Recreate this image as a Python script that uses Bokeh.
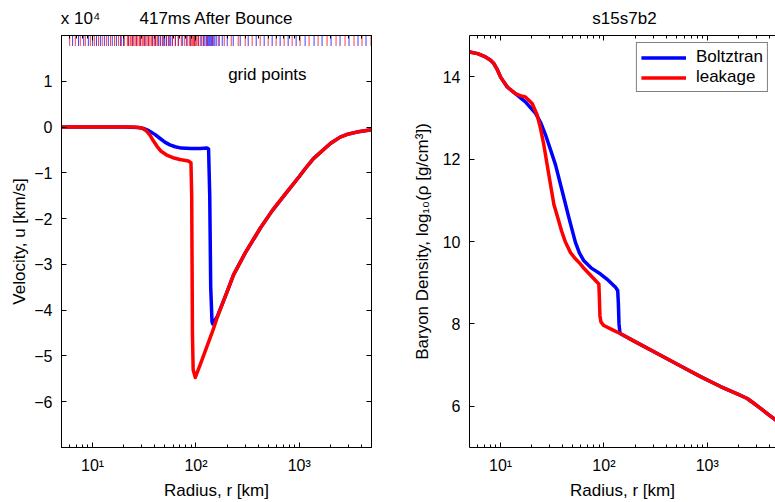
from bokeh.plotting import figure
from bokeh.models import (Range1d, FixedTicker, LinearAxis, Label, Legend, LegendItem)
from bokeh.layouts import row
from bokeh.embed import file_html
from bokeh.resources import INLINE

FONT = "Liberation Sans"

# ---------------- Left panel: velocity (units of 1e4 km/s) ----------------
vel_r_boltz = [5, 20, 28, 31, 35, 40, 45, 50, 56, 63, 72, 90, 110, 128, 132.5, 136, 139, 143, 145,
               160, 200, 231, 300, 419, 550, 758, 1000, 1150, 1371, 2000, 2483, 3000, 3597, 5000]
vel_u_boltz = [0, 0, -0.01, -0.03, -0.08, -0.16, -0.25, -0.33, -0.39, -0.43, -0.46, -0.47, -0.47, -0.46,
               -0.48, -1.5, -3.5, -4.25, -4.30,
               -4.15, -3.60, -3.23, -2.75, -2.21, -1.82, -1.42, -1.08, -0.90, -0.69, -0.36, -0.22,
               -0.15, -0.11, -0.06]

vel_r_leak = [5, 25, 30, 33, 36, 38.7, 42, 46, 52.9, 60, 70, 84.3, 89.5, 91, 92.5, 94, 98.6, 110, 125, 145,
              160, 200, 231, 300, 419, 550, 758, 1000, 1150, 1371, 2000, 2483, 3000, 3597, 5000]
vel_u_leak = [0, 0, -0.02, -0.08, -0.18, -0.30, -0.42, -0.53, -0.62, -0.67, -0.71, -0.74, -0.78, -1.5, -4.5,
              -5.3, -5.47, -5.19, -4.85, -4.46,
              -4.17, -3.60, -3.23, -2.75, -2.21, -1.82, -1.42, -1.08, -0.90, -0.69, -0.36, -0.22,
              -0.15, -0.11, -0.06]

# grid point radii [km]
grid_r_leak = [6.0, 6.8, 7.6, 8.5, 9.5, 10.4, 11.4, 12.4, 13.6, 14.9, 16.3, 17.8, 19.0, 20.3,
               21.7, 22.4, 23.2, 24.0, 24.8, 25.7, 26.5, 27.4, 28.4, 29.3, 30.3, 31.3, 32.4, 33.5,
               34.6, 35.8, 37.0, 38.3, 39.6, 40.9, 42.3, 45.2, 48.4, 51.7, 55.3, 59.1, 63.2, 67.5,
               72.2, 77.2, 82.5, 86.2, 89.2, 91.2, 93.2, 95.3, 97.5, 99.6, 101.9, 105.4, 110.1,
               117.8, 128.7, 143.8, 164.4, 187.9, 219.6, 256.5, 299.7, 350.2, 418.5, 500, 597, 714,
               853, 1019, 1245, 1521, 1858, 2270, 2773, 3387, 4047, 4945]
grid_r_boltz = [6.4, 7.3, 8.2, 9.1, 10.0, 10.9, 11.9, 13.0, 14.2, 15.5, 17.0, 18.6, 19.9, 22.2,
                24.3, 26.5, 29.0, 31.7, 34.6, 37.9, 40.5, 43.3, 45.2, 47.3, 49.5, 51.7, 54.1, 56.5,
                59.1, 63.2, 67.5, 73.8, 80.7, 88.2, 96.4, 105.4, 112.6, 117.8, 121.8, 125.9, 128.7,
                131.6, 134.6, 137.6, 140.7, 143.8, 147.1, 152.1, 157.2, 168.1, 179.7, 200.9, 229.6,
                268.2, 320.5, 383.0, 457.5, 546.6, 653.0, 780.4, 932.4, 1139, 1391, 1662, 2031,
                2481, 3031, 3703, 4425]

# ---------------- Right panel: log10 baryon density ----------------
dens_r_boltz = [5, 6, 7.14, 8.0, 8.6, 9.3, 10, 11.6, 13.9, 17.4, 21.8, 24.5, 27.2, 30.5, 34, 39.5,
                45.8, 53, 58, 64, 75, 92.7, 110, 129.5, 136, 138, 140, 142.7,
                145, 200, 353, 600, 861, 1345, 2000, 2438, 2800, 3281, 4000, 4581, 5000]
dens_rho_boltz = [14.60, 14.56, 14.48, 14.40, 14.32, 14.17, 13.99, 13.75, 13.59, 13.39, 13.11, 12.88,
                  12.59, 12.22, 11.86, 11.22, 10.58, 9.98, 9.72, 9.53, 9.36, 9.21, 9.06, 8.89, 8.81,
                  8.5, 8.0, 7.80,
                  7.76, 7.57, 7.24, 6.93, 6.72, 6.48, 6.29, 6.19, 6.08, 5.95, 5.78, 5.67, 5.60]

dens_r_leak = [5, 6, 7.14, 8.0, 8.6, 9.3, 10, 11.6, 13.9, 15.5, 17.4, 20.2, 22.6, 24.3, 26.2, 29.3,
               32.8, 36, 39, 42.5, 47.5, 53, 59.4, 64, 75, 86, 89.3, 90.5, 91.5, 93.5, 99.8, 120,
               145, 200, 353, 600, 861, 1345, 2000, 2438, 2800, 3281, 4000, 4581, 5000]
dens_rho_leak = [14.60, 14.56, 14.48, 14.40, 14.32, 14.17, 13.99, 13.75, 13.59, 13.54, 13.51, 13.35,
                 13.07, 12.75, 12.35, 11.62, 10.90, 10.55, 10.25, 9.98, 9.73, 9.58, 9.45, 9.35, 9.17,
                 9.01, 8.97, 8.6, 8.2, 8.05, 7.96, 7.86,
                 7.76, 7.57, 7.24, 6.93, 6.72, 6.48, 6.29, 6.19, 6.08, 5.95, 5.78, 5.67, 5.60]

x_major = [10, 100, 1000]
x_major_labels = ["10\u00b9", "10\u00b2", "10\u00b3"]
x_minor = [6, 7, 8, 9, 20, 30, 40, 50, 60, 70, 80, 90, 200, 300, 400, 500, 600, 700, 800, 900,
           2000, 3000, 4000, 5000]
vel_ticks = [-6, -5, -4, -3, -2, -1, 0, 1]
vel_tick_labels = ["\u22126", "\u22125", "\u22124", "\u22123", "\u22122", "\u22121", "0", "1"]
dens_ticks = [6, 8, 10, 12, 14]
dens_tick_labels = ["6", "8", "10", "12", "14"]

title_left = "417ms After Bounce"
title_right = "s15s7b2"
scale_note = "x 10\u2074"

BLUE = "#0000ff"
RED = "#ff0000"
LW = 3.5

R_MIN, R_MAX_L, R_MAX_R = 5, 5000, 4580
R_CENTER = (R_MIN * 5000) ** 0.5            # centre of a 5..5000 log axis
R_NOTE = R_MIN * (5000 / R_MIN) ** (19 / 310)  # centre of the "x 10^4" note


def style_axis(ax):
    ax.axis_line_color = "black"
    ax.axis_line_width = 1
    ax.major_tick_in = 5
    ax.major_tick_out = 0
    ax.minor_tick_in = 3
    ax.minor_tick_out = 0
    ax.major_tick_line_color = "black"
    ax.minor_tick_line_color = "black"
    ax.major_label_text_font = FONT
    ax.major_label_text_font_size = "16px"
    ax.major_label_text_color = "black"
    ax.axis_label_text_font = FONT
    ax.axis_label_text_font_size = "17px"
    ax.axis_label_text_font_style = "normal"
    ax.axis_label_text_color = "black"


def mirror_axis(p, ticks, minor, loc):
    ax = LinearAxis(ticker=FixedTicker(ticks=ticks, minor_ticks=minor))
    style_axis(ax)
    ax.major_label_text_font_size = "0px"
    ax.major_label_standoff = 0
    ax.major_label_overrides = {t: "" for t in ticks}
    if not minor:
        ax.minor_tick_line_color = None
    p.add_layout(ax, loc)
    return ax


def text_axis(p, positions, texts):
    ax = LinearAxis(ticker=FixedTicker(ticks=positions, minor_ticks=[]))
    ax.axis_line_color = None
    ax.major_tick_line_color = None
    ax.minor_tick_line_color = None
    ax.major_tick_in = 0
    ax.major_tick_out = 0
    ax.major_label_overrides = dict(zip(positions, texts))
    ax.major_label_text_font = FONT
    ax.major_label_text_font_size = "17px"
    ax.major_label_text_color = "black"
    ax.major_label_standoff = 8
    p.add_layout(ax, "above")
    return ax


def base_style(p):
    p.xgrid.visible = False
    p.ygrid.visible = False
    p.background_fill_color = "white"
    p.border_fill_color = "white"


# ---------------- Left figure ----------------
V_TOP = 2.0
p1 = figure(width=400, height=502, x_axis_type="log",
            x_range=Range1d(R_MIN, R_MAX_L), y_range=Range1d(-7, V_TOP),
            output_backend="svg", toolbar_location=None,
            min_border_left=61, min_border_right=29, min_border_top=35, min_border_bottom=53)
base_style(p1)
p1.outline_line_color = "black"
p1.outline_line_width = 1

p1.xaxis.ticker = FixedTicker(ticks=x_major, minor_ticks=x_minor)
p1.xaxis.major_label_overrides = dict(zip(x_major, x_major_labels))
p1.yaxis.ticker = FixedTicker(ticks=vel_ticks, minor_ticks=[])
p1.yaxis.major_label_overrides = dict(zip(vel_ticks, vel_tick_labels))
p1.xaxis.axis_label = "Radius, r [km]"
p1.yaxis.axis_label = "Velocity, u [km/s]"
for ax in p1.xaxis + p1.yaxis:
    style_axis(ax)
p1.yaxis.minor_tick_line_color = None
p1.xaxis.major_label_standoff = 9
p1.xaxis.axis_label_standoff = 4
p1.yaxis.major_label_standoff = 9
p1.yaxis.axis_label_standoff = 2
mirror_axis(p1, x_major, x_minor, "above")
mirror_axis(p1, vel_ticks, [], "right")
text_axis(p1, [R_NOTE, R_CENTER], [scale_note, title_left])

tick_len = 0.23
p1.segment(x0=grid_r_boltz, y0=[V_TOP] * len(grid_r_boltz), x1=grid_r_boltz,
           y1=[V_TOP - tick_len] * len(grid_r_boltz), line_color=BLUE, line_alpha=0.75, line_width=1)
p1.segment(x0=grid_r_leak, y0=[V_TOP] * len(grid_r_leak), x1=grid_r_leak,
           y1=[V_TOP - tick_len] * len(grid_r_leak), line_color=RED, line_alpha=0.75, line_width=1)

p1.line(vel_r_boltz, vel_u_boltz, line_color=BLUE, line_width=LW, line_join="round")
p1.line(vel_r_leak, vel_u_leak, line_color=RED, line_width=LW, line_join="round")

p1.add_layout(Label(x=205, y=1.15, text="grid points", text_font=FONT, text_font_size="17px",
                    text_color="black", text_baseline="alphabetic", text_align="left"))

# ---------------- Right figure ----------------
p2 = figure(width=375, height=502, x_axis_type="log",
            x_range=Range1d(R_MIN, R_MAX_R), y_range=Range1d(5, 15),
            output_backend="svg", toolbar_location=None,
            min_border_left=69, min_border_right=0, min_border_top=35, min_border_bottom=53)
base_style(p2)
p2.outline_line_color = None

p2.xaxis.ticker = FixedTicker(ticks=x_major, minor_ticks=x_minor)
p2.xaxis.major_label_overrides = dict(zip(x_major, x_major_labels))
p2.yaxis.ticker = FixedTicker(ticks=dens_ticks, minor_ticks=[])
p2.yaxis.major_label_overrides = dict(zip(dens_ticks, dens_tick_labels))
p2.xaxis.axis_label = "Radius, r [km]"
p2.yaxis.axis_label = "Baryon Density, log\u2081\u2080(\u03c1 [g/cm\u00b3])"
for ax in p2.xaxis + p2.yaxis:
    style_axis(ax)
p2.yaxis.minor_tick_line_color = None
p2.xaxis.major_label_standoff = 9
p2.xaxis.axis_label_standoff = 4
p2.yaxis.major_label_standoff = 9
p2.yaxis.axis_label_standoff = 8
mirror_axis(p2, x_major, x_minor, "above")
text_axis(p2, [R_CENTER], [title_right])

rb = p2.line(dens_r_boltz, dens_rho_boltz, line_color=BLUE, line_width=LW, line_join="round")
rl = p2.line(dens_r_leak, dens_rho_leak, line_color=RED, line_width=LW, line_join="round")

legend = Legend(items=[LegendItem(label="Boltztran", renderers=[rb]),
                       LegendItem(label="leakage", renderers=[rl])],
                location="top_right")
legend.margin = 7
legend.padding = 4
legend.spacing = 0
legend.label_height = 17
legend.glyph_height = 17
legend.glyph_width = 45
legend.label_standoff = 10
legend.label_text_font = FONT
legend.label_text_font_size = "17px"
legend.label_text_color = "black"
legend.border_line_color = "black"
legend.border_line_width = 1
legend.background_fill_alpha = 1
p2.add_layout(legend)

layout = row(p1, p2, spacing=0)
open("out.html", "w").write(file_html(layout, INLINE))
